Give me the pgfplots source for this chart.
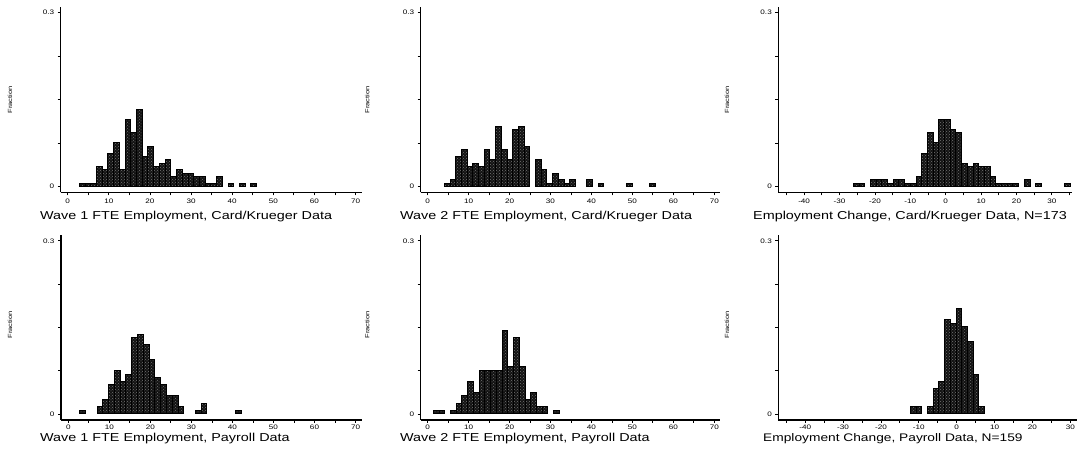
\documentclass[border=0pt]{standalone}
\usepackage{pgfplots}
\pgfplotsset{compat=1.18}
\usepackage{fontspec}
\setmainfont[FakeStretch=1.25]{Liberation Sans}
\usetikzlibrary{patterns}

\pgfplotsset{
  hist/.style={
    scale only axis,
    anchor=south west,
    axis x line*=bottom,
    axis y line*=left,
    axis line style={line width=1.3pt,-},
    ytick={0,0.075,0.15,0.225,0.3},
    yticklabels={0,,,,0.3},
    tick align=outside,
    major tick length=3pt,
    tick style={line width=0.8pt,black},
    tick label style={font=\fontsize{6.5}{7}\selectfont},
    clip=false,
  },
  top/.style={hist, height=185.6pt, ymin=-0.0098, ymax=0.31},
  bot/.style={hist, height=185pt, ymin=-0.0104, ymax=0.31,
    xticklabel style={yshift=1.2pt}},
  wage/.style={xmin=-1.7, xmax=71.5, xtick={0,5,...,70},
    xticklabels={0,,10,,20,,30,,40,,50,,60,,70}},
  bars/.style={ybar, bar shift=0pt, draw=black, line width=1pt, fill=black!93,
    postaction={pattern=crosshatch dots, pattern color=black!55}},
}

\begin{document}
\begin{tikzpicture}
\useasboundingbox (0,0) rectangle (1085pt,454pt);

% ---------- Panel 1: Wave 1 FTE, Card/Krueger ----------
\begin{axis}[top, wage, at={(60.7pt,261.7pt)}, width=301pt]
\addplot[bars, bar width=1.39] coordinates {
(3.545,0.00578) (4.935,0.00578) (6.325,0.00578) (7.715,0.03468)
(9.105,0.02890) (10.495,0.05780) (11.885,0.07514) (13.275,0.02890)
(14.665,0.11561) (16.055,0.09249) (17.445,0.13295) (18.835,0.05202)
(20.225,0.06936) (21.615,0.03468) (23.005,0.04046) (24.395,0.04624)
(25.785,0.01734) (27.175,0.02890) (28.565,0.02312) (29.955,0.02312)
(31.345,0.01734) (32.735,0.01734) (34.125,0.00578) (35.515,0.00578)
(36.905,0.01734) (39.685,0.00578) (42.465,0.00578) (45.245,0.00578)
};
\end{axis}

% ---------- Panel 2: Wave 2 FTE, Card/Krueger ----------
\begin{axis}[top, wage, at={(420.7pt,261.7pt)}, width=299.3pt, xmax=71.4]
\addplot[bars, bar width=1.392] coordinates {
(4.766,0.00578) (6.158,0.01156) (7.550,0.05202) (8.942,0.06358)
(10.334,0.03468) (11.726,0.04046) (13.118,0.03468) (14.510,0.06358)
(15.902,0.04624) (17.294,0.10405) (18.686,0.06358) (20.078,0.04624)
(21.470,0.09827) (22.862,0.10405) (24.254,0.06936) (27.038,0.04624)
(28.430,0.02890) (29.822,0.00578) (31.214,0.02312) (32.606,0.01156)
(33.998,0.00578) (35.390,0.01156) (39.566,0.01156) (42.350,0.00578)
(49.310,0.00578) (54.878,0.00578)
};
\end{axis}

% ---------- Panel 3: Employment change, Card/Krueger ----------
\begin{axis}[top, at={(778.3pt,261.7pt)}, width=293.4pt, xmin=-47.3, xmax=35.6,
  xtick={-45,-40,...,35}, xticklabels={,-40,,-30,,-20,,-10,,0,,10,,20,,30,}]
\addplot[bars, bar width=1.611] coordinates {
(-25.295,0.00578) (-23.684,0.00578) (-20.462,0.01156) (-18.851,0.01156)
(-17.240,0.01156) (-15.629,0.00578) (-14.018,0.01156) (-12.407,0.01156)
(-10.796,0.00578) (-9.185,0.00578) (-7.574,0.01734) (-5.963,0.05780)
(-4.352,0.09249) (-2.741,0.07514) (-1.130,0.11561) (0.481,0.11561)
(2.092,0.09827) (3.703,0.09249) (5.314,0.04046) (6.925,0.03468)
(8.536,0.04046) (10.147,0.03468) (11.758,0.03468) (13.369,0.01734)
(14.980,0.00578) (16.591,0.00578) (18.202,0.00578) (19.813,0.00578)
(23.035,0.01156) (26.257,0.00578) (34.312,0.00578)
};
\end{axis}

% ---------- Panel 4: Wave 1 FTE, Payroll ----------
\begin{axis}[bot, wage, at={(61pt,34pt)}, width=300.7pt, xmin=-1.78]
\addplot[bars, bar width=1.41] coordinates {
(3.475,0.00629) (7.705,0.01258) (9.115,0.02516) (10.525,0.05031)
(11.935,0.07547) (13.345,0.05660) (14.755,0.06918) (16.165,0.13208)
(17.575,0.13836) (18.985,0.11950) (20.395,0.09434) (21.805,0.06289)
(23.215,0.05031) (24.625,0.03145) (26.035,0.03145) (27.445,0.01258)
(31.675,0.00629) (33.085,0.01887) (41.545,0.00629)
};
\end{axis}

% ---------- Panel 5: Wave 2 FTE, Payroll ----------
\begin{axis}[bot, wage, at={(420.7pt,34pt)}, width=299.3pt, xmax=71.4]
\addplot[bars, bar width=1.40] coordinates {
(2.08,0.00629) (3.48,0.00629) (6.28,0.00629) (7.68,0.01887)
(9.08,0.03145) (10.48,0.05660) (11.88,0.03774) (13.28,0.07547)
(14.68,0.07547) (16.08,0.07547) (17.48,0.07547) (18.88,0.14465)
(20.28,0.08176) (21.68,0.13208) (23.08,0.08176) (24.48,0.02516)
(25.88,0.03774) (27.28,0.01258) (28.68,0.01258) (31.48,0.00629)
};
\end{axis}

% ---------- Panel 6: Employment change, Payroll ----------
\begin{axis}[bot, at={(778.3pt,34pt)}, width=298.4pt, xmin=-47.1, xmax=31.7,
  xtick={-45,-40,...,30}, xticklabels={,-40,,-30,,-20,,-10,,0,,10,,20,,30}]
\addplot[bars, bar width=1.5] coordinates {
(-11.42,0.01258) (-9.92,0.01258) (-6.92,0.01258) (-5.42,0.04403)
(-3.92,0.05660) (-2.42,0.16352) (-0.92,0.15723) (0.58,0.18239)
(2.08,0.15094) (3.58,0.12579) (5.08,0.06918) (6.58,0.01258)
};
\end{axis}

% ---------- axis titles ----------
\begin{scope}[every node/.style={font=\fontsize{11.5}{13}\selectfont, anchor=base west, inner sep=0pt}]
\node at (40pt,234pt) {Wave 1 FTE Employment, Card/Krueger Data};
\node at (400pt,234pt) {Wave 2 FTE Employment, Card/Krueger Data};
\node at (753pt,234pt) {Employment Change, Card/Krueger Data, N=173};
\node at (40pt,12pt) {Wave 1 FTE Employment, Payroll Data};
\node at (400pt,12pt) {Wave 2 FTE Employment, Payroll Data};
\node[font=\fontsize{11}{13}\selectfont] at (763pt,12pt) {Employment Change, Payroll Data, N=159};
\end{scope}
\begin{scope}[every node/.style={font=\fontsize{6}{7}\selectfont, rotate=90, inner sep=0pt}]
\node at (10pt,354pt) {Fraction};
\node at (367.3pt,354pt) {Fraction};
\node at (727pt,354pt) {Fraction};
\node at (10pt,129pt) {Fraction};
\node at (367.3pt,129pt) {Fraction};
\node at (727pt,129pt) {Fraction};
\end{scope}
\end{tikzpicture}
\end{document}
